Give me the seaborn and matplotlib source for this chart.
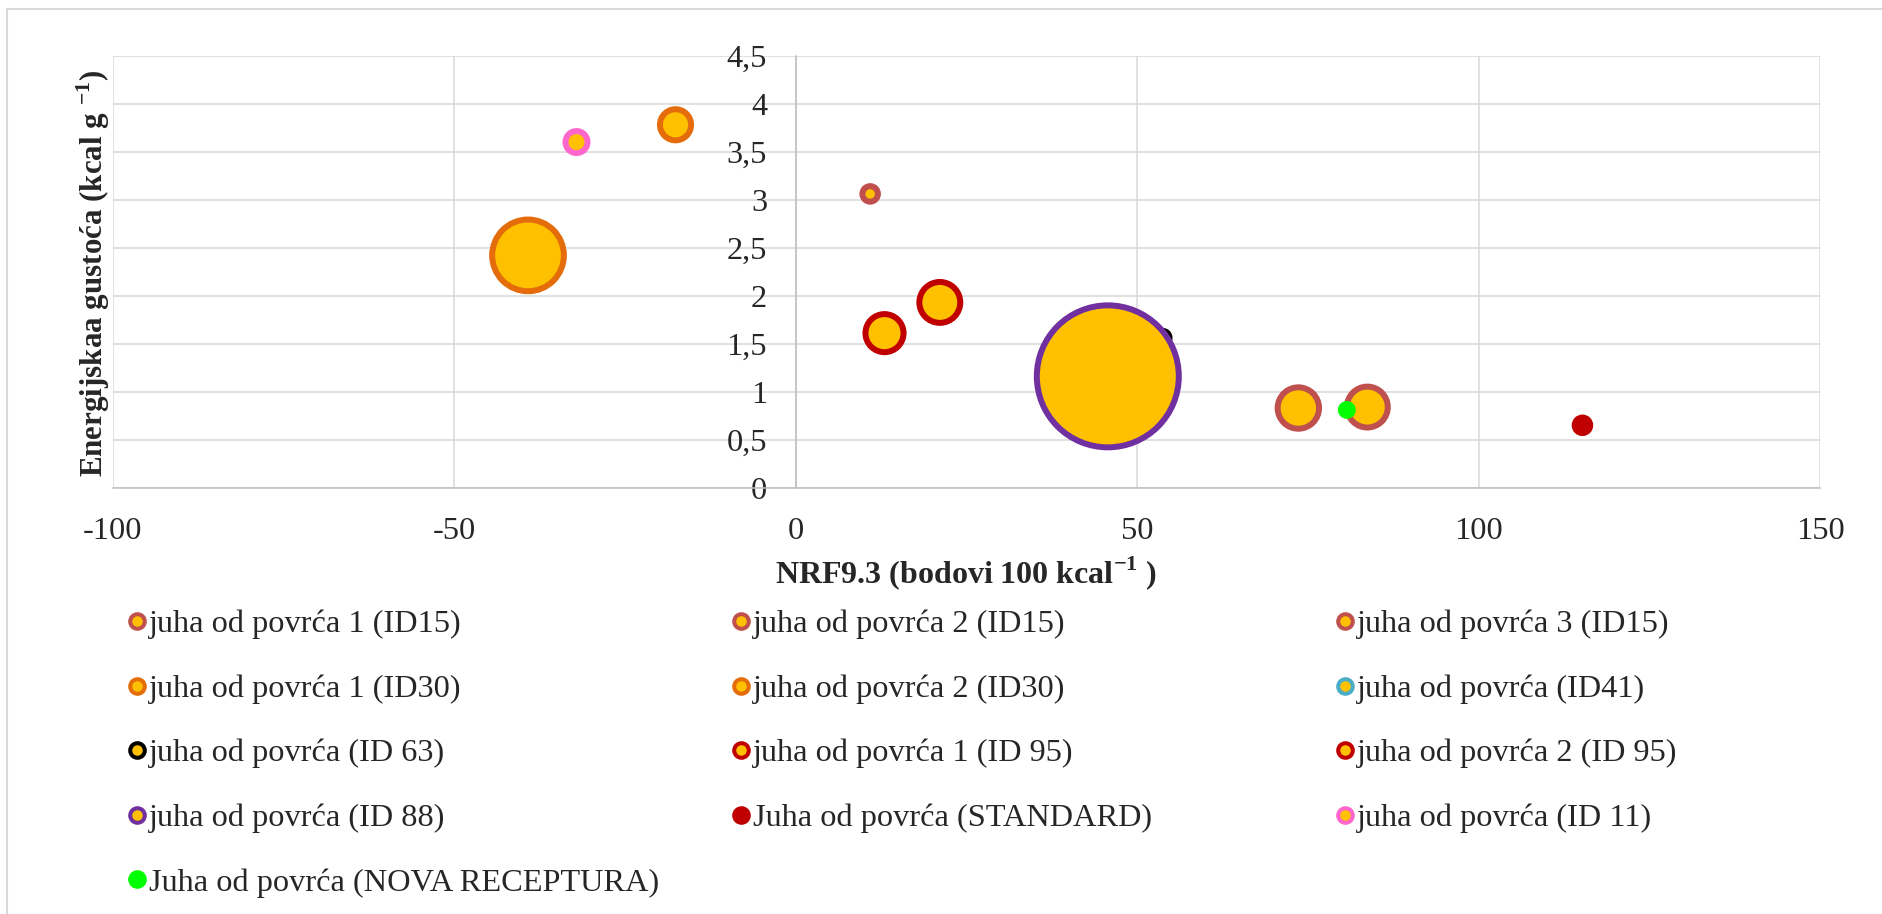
import pandas as pd
import matplotlib.pyplot as plt
import seaborn as sns
from matplotlib.lines import Line2D
from matplotlib.patches import Rectangle

sns.set_style("white")
plt.rcParams["font.family"] = ["Liberation Serif", "DejaVu Serif"]
plt.rcParams["axes.unicode_minus"] = False
plt.rcParams["mathtext.fontset"] = "custom"
plt.rcParams["mathtext.rm"] = "Liberation Serif"
plt.rcParams["mathtext.bf"] = "Liberation Serif:bold"

# series (Excel bubble chart, one point per series)
labels = [
    "juha od povrća 1 (ID15)", "juha od povrća 2 (ID15)", "juha od povrća 3 (ID15)",
    "juha od povrća 1 (ID30)", "juha od povrća 2 (ID30)", "juha od povrća (ID41)",
    "juha od povrća (ID 63)", "juha od povrća 1 (ID 95)", "juha od povrća 2 (ID 95)",
    "juha od povrća (ID 88)", "Juha od povrća (STANDARD)", "juha od povrća (ID 11)",
    "Juha od povrća (NOVA RECEPTURA)",
]
nrf = [73.6, 83.7, 10.9, -39.2, -17.6, 44.6, 53.7, 13.0, 21.1, 45.7, 115.2, -32.1, 80.7]
energy = [0.83, 0.84, 3.06, 2.42, 3.78, 1.07, 1.56, 1.61, 1.93, 1.16, 0.65, 3.60, 0.81]
bubble = [8.5, 8.3, 1.2, 25.5, 4.8, 2.0, 1.0, 7.2, 8.3, 100, 1.2, 2.4, 0.7]
edge_colors = ["#C0504D", "#C0504D", "#C0504D", "#E46C0A", "#E46C0A", "#4BACC6",
               "#000000", "#C00000", "#C00000", "#7030A0", "#C00000", "#FF66CC", "#00FF00"]
fill_colors = ["#FFC000"] * 10 + ["#C00000", "#FFC000", "#00FF00"]

x_ticks = [-100, -50, 0, 50, 100, 150]
x_tick_labels = ["-100", "-50", "0", "50", "100", "150"]
y_ticks = [0, 0.5, 1, 1.5, 2, 2.5, 3, 3.5, 4, 4.5]
y_tick_labels = ["0", "0,5", "1", "1,5", "2", "2,5", "3", "3,5", "4", "4,5"]

df = pd.DataFrame({"label": labels, "nrf": nrf, "energy": energy, "bubble": bubble})

fig = plt.figure(figsize=(18.83, 9.14), dpi=100)
ax = fig.add_axes([0.0599, 0.4664, 0.9067, 0.4727])

sns.scatterplot(data=df, x="nrf", y="energy", hue="label",
                palette=dict(zip(labels, fill_colors)),
                size="bubble", sizes=(0, 10450), size_norm=(0, 100),
                edgecolor=edge_colors, linewidth=4.3, legend=False, ax=ax, zorder=3)

ax.set_xlim(-100, 150)
ax.set_ylim(0, 4.5)
ax.set_xticks(x_ticks)
ax.set_xticklabels(x_tick_labels)
ax.set_yticks(y_ticks)
ax.set_yticklabels(y_tick_labels)
ax.tick_params(axis="both", labelsize=23.3, length=0)
ax.tick_params(axis="y", pad=20.6)
ax.tick_params(axis="x", pad=21)
ax.grid(True, color="#d9d9d9", linewidth=1.1)
ax.set_axisbelow(True)

ax.spines["left"].set_position(("data", 0))
for s in ["left", "bottom"]:
    ax.spines[s].set_color("#bfbfbf")
    ax.spines[s].set_linewidth(1.1)
ax.spines["top"].set_visible(False)
ax.spines["right"].set_visible(False)

ax.set_xlabel("NRF9.3 (bodovi 100 kcal$^{\\mathbf{-1}}$ )", fontsize=23,
              fontweight="bold", va="center")
ax.set_ylabel("Energijskaa gustoća (kcal g $^{\\mathbf{-1}}$)", fontsize=22.3,
              fontweight="bold", va="center")
ax.xaxis.set_label_coords(0.5, -0.197)
ax.yaxis.set_label_coords(-0.0115, 0.497)

# legend: three columns, row-major order like Excel
handles = [Line2D([], [], marker="o", linestyle="", markersize=10.5,
                  markerfacecolor=f, markeredgecolor=e, markeredgewidth=2.9)
           for f, e in zip(fill_colors, edge_colors)]
col_x = [137, 741, 1345]
for c in range(3):
    idx = list(range(c, len(labels), 3))
    fig.legend([handles[i] for i in idx], [labels[i] for i in idx],
               loc="upper left", bbox_to_anchor=((col_x[c] - 9.7) / 1883, 0.333),
               frameon=False, fontsize=23.3, borderpad=0, borderaxespad=0,
               handlelength=0.6, handletextpad=0.08, labelspacing=1.08)

fig.add_artist(Rectangle((7 / 1883, -0.01), 1.0, 1 - 9 / 914 + 0.01,
                         transform=fig.transFigure, fill=False,
                         edgecolor="#d9d9d9", linewidth=1.5))

fig.savefig("out.png", dpi=100)
